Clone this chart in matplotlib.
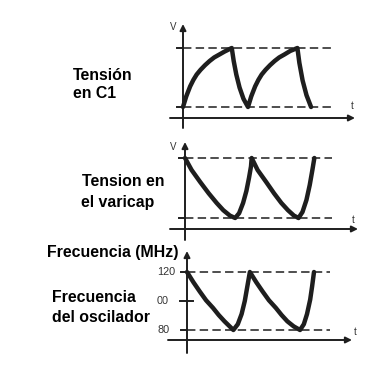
import matplotlib.pyplot as plt

plt.rcParams['font.family'] = ['Liberation Sans', 'DejaVu Sans']

# --- data (t in periods) ---
t_c1 = [0, 0.05, 0.11, 0.16, 0.21, 0.27, 0.34, 0.41, 0.48, 0.56, 0.64, 0.75,
        0.78, 0.82, 0.87, 0.93, 1.0,
        1.05, 1.11, 1.16, 1.21, 1.27, 1.34, 1.41, 1.48, 1.56, 1.65, 1.76,
        1.79, 1.84, 1.90, 1.97]
v_c1 = [0, 0.18, 0.35, 0.46, 0.55, 0.63, 0.71, 0.78, 0.84, 0.89, 0.94, 1.0,
        0.78, 0.55, 0.33, 0.14, 0,
        0.18, 0.35, 0.46, 0.55, 0.63, 0.71, 0.78, 0.84, 0.89, 0.95, 1.0,
        0.75, 0.45, 0.2, 0]

t_var = [0, 0.1, 0.23, 0.36, 0.48, 0.58, 0.68, 0.76,
         0.82, 0.88, 0.93, 0.97, 1.0, 1.01,
         1.1, 1.23, 1.35, 1.46, 1.56, 1.65, 1.72,
         1.78, 1.84, 1.89, 1.93, 1.96]
v_var = [1.0, 0.8, 0.6, 0.41, 0.25, 0.13, 0.04, 0,
         0.08, 0.25, 0.45, 0.67, 0.86, 1.0,
         0.8, 0.6, 0.41, 0.25, 0.13, 0.04, 0,
         0.1, 0.3, 0.55, 0.8, 1.0]

t_osc = [0, 0.1, 0.2, 0.3, 0.41, 0.5, 0.59, 0.66, 0.73,
         0.8, 0.86, 0.91, 0.95, 0.99,
         1.09, 1.19, 1.29, 1.4, 1.49, 1.58, 1.68, 1.78,
         1.84, 1.89, 1.94, 1.97, 2.0]
f_osc = [120, 113, 106.6, 100.5, 95.2, 90.3, 86, 83, 80,
         84, 91, 100, 110, 120,
         113, 106.6, 100.5, 95.2, 90.3, 86, 82.5, 80,
         84, 91, 101, 110, 120]
f_ticks = [120, 100, 80]
f_ticklabels = ['120', '00', '80']

W, H = 378, 371
fig = plt.figure(figsize=(W / 100, H / 100), dpi=100)
ink = '#1e1e1e'


def panel(x0, sx, yl, yh, vl, vh):
    # full-figure transparent axes, scaled so data maps onto the panel pixels
    ax = fig.add_axes([0, 0, 1, 1])
    ax.set_axis_off()
    k = (vh - vl) / (yl - yh)
    ax.set_xlim(-x0 / sx, (W - x0) / sx)
    ax.set_ylim(vl + (yl - H) * k, vl + yl * k)
    fx = lambda px: (px - x0) / sx
    fy = lambda py: vl + (yl - py) * k
    return ax, fx, fy


def frame(ax, fx, fy, x0, x_ax, xa0, xa1, ya0, ya1, levels, dash_end):
    arrow = dict(arrowstyle='-|>', lw=1.4, color=ink, mutation_scale=9,
                 shrinkA=0, shrinkB=0)
    ax.annotate('', xy=(fx(xa1), fy(x_ax)), xytext=(fx(xa0), fy(x_ax)),
                arrowprops=arrow)
    ax.annotate('', xy=(0, fy(ya1)), xytext=(0, fy(ya0)), arrowprops=arrow)
    for lv in levels:
        ax.plot([fx(x0 - 6), 0], [lv, lv], color=ink, lw=1.4)
        ax.plot([0, fx(dash_end)], [lv, lv], color=ink, lw=1.1,
                linestyle=(0, (5.5, 2.8)))


# panel 1: tension en C1
ax1, fx1, fy1 = panel(183, 65, 107, 48, 0, 1)
frame(ax1, fx1, fy1, 183, 118, 170, 355, 128, 24, [0, 1], 333)
ax1.plot(t_c1, v_c1, color=ink, lw=3.2, solid_joinstyle='round', solid_capstyle='round')

# panel 2: tension en el varicap
ax2, fx2, fy2 = panel(185, 66, 218, 158, 0, 1)
frame(ax2, fx2, fy2, 185, 229, 170, 358, 240, 142, [0, 1], 332)
ax2.plot(t_var, v_var, color=ink, lw=3.2, solid_joinstyle='round', solid_capstyle='round')

# panel 3: frecuencia del oscilador
ax3, fx3, fy3 = panel(187, 63.5, 330, 272, 80, 120)
frame(ax3, fx3, fy3, 187, 340, 168, 352, 353, 251, [80, 120], 330)
ax3.plot([fx3(180), fx3(193)], [100, 100], color=ink, lw=1.4)
ax3.plot(t_osc, f_osc, color=ink, lw=3.2, solid_joinstyle='round', solid_capstyle='round')
for v, s in zip(f_ticks, f_ticklabels):
    ax3.text(fx3(157), v, s, fontsize=7.8, color='#333333', ha='left', va='center')

# small axis letters
small = dict(fontsize=7, color='#333333', ha='center', va='center')
ax1.text(fx1(173), fy1(27), 'V', **small)
ax1.text(fx1(352), fy1(106), 't', **small)
ax2.text(fx2(173), fy2(147), 'V', **small)
ax2.text(fx2(353), fy2(220), 't', **small)
ax3.text(fx3(355), fy3(332), 't', **small)

# bold captions
cap = dict(fontsize=11.4, fontweight='bold', color='black', ha='left', va='center')
for x, y, s in [(73, 75, 'Tensión'), (73, 93, 'en C1'),
                (82, 182, 'Tension en'), (81, 202, 'el varicap'),
                (47, 252, 'Frecuencia (MHz)'),
                (52, 298, 'Frecuencia'), (52, 318, 'del oscilador')]:
    fig.text(x / W, 1 - y / H, s, **cap)

fig.savefig('out.png', dpi=100, facecolor='white')
